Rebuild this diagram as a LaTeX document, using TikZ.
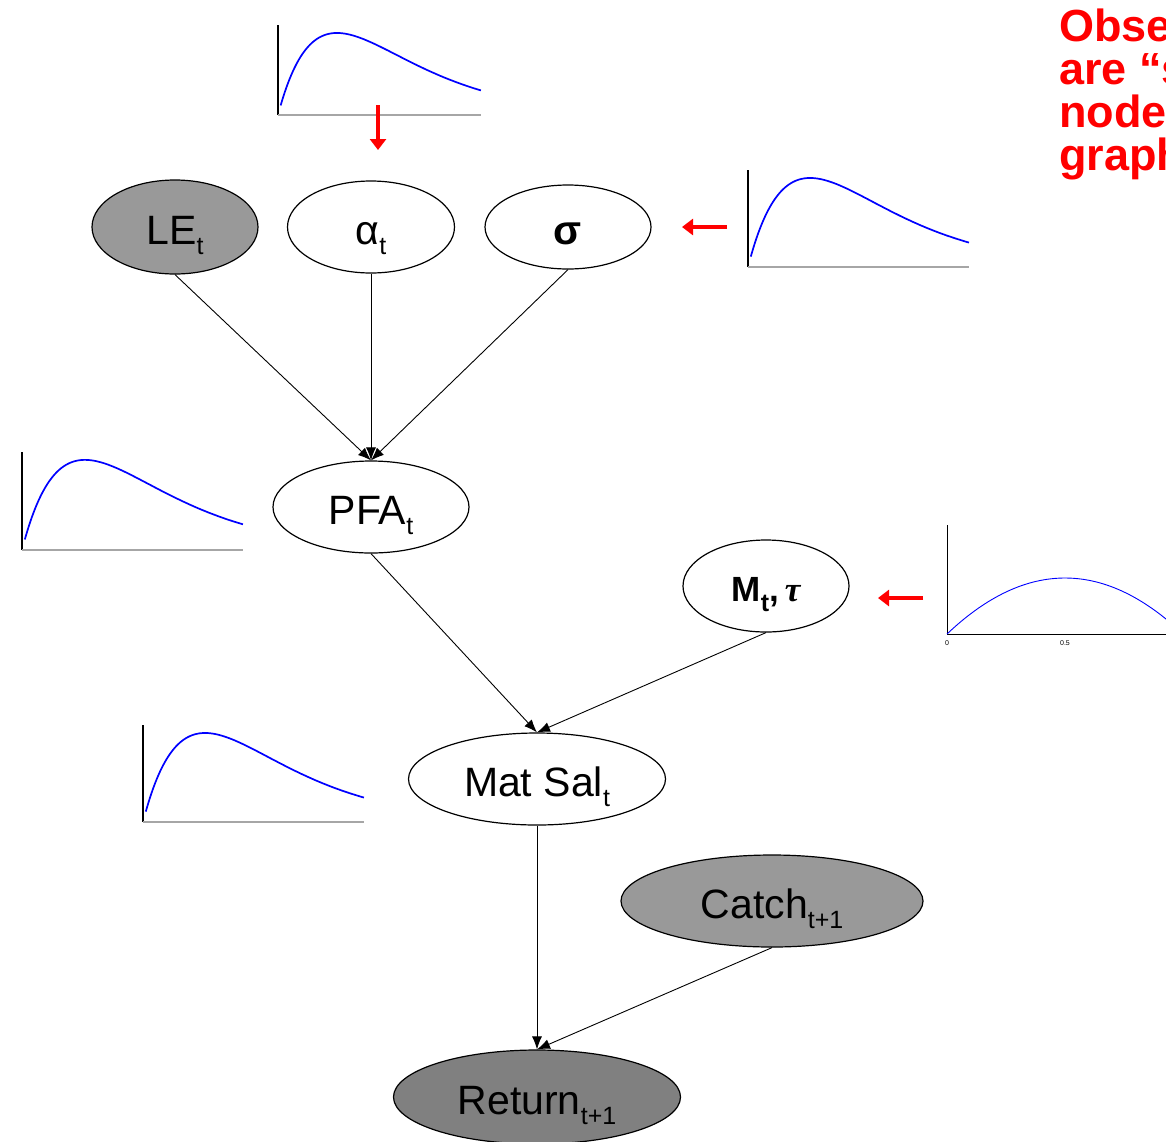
\documentclass[tikz,border=0pt]{standalone}
\usepackage{fontspec}
\setmainfont{Liberation Sans}
\newfontfamily\serifbi{Liberation Serif}
\usetikzlibrary{shapes.geometric,arrows.meta}
\definecolor{obsgray}{RGB}{153,153,153}
\definecolor{obsdark}{RGB}{128,128,128}
\newcommand\lowt[1]{\raisebox{-10pt}{\fontsize{25}{25}\selectfont #1}}
\newcommand\gplot[6]{%
  \draw[black,line width=2.4] (#1,#3) -- (#1,#2);
  \draw[gray!70,line width=1.4] (#1,#2) -- ({#1+#4},#2);
  \draw[blue,line width=1.7,line join=round] plot[domain=0.045:#5,samples=90,smooth] ({#1+\x*#4/#5},{#2-#6*\x*exp(-\x)});
}
\tikzset{
  gnode/.style={ellipse,draw,line width=1.2,inner sep=0pt,text height=34pt,text depth=0pt,font=\fontsize{41}{41}\selectfont},
  edge/.style={line width=0.9,-{Latex[length=13pt,width=10pt]}},
  redarrow/.style={red,line width=4.5,-{Triangle[length=11pt,width=16pt]}},
}
\begin{document}
\begin{tikzpicture}[x=1pt,y=-1pt]
\useasboundingbox (0,0) rectangle (1166,1141);
\clip (0,0) rectangle (1166,1141);
\fill[white] (0,0) rectangle (1166,1141);

% nodes
\node[gnode,fill=obsgray,minimum width=166,minimum height=94] (le) at (175,227) {LE\lowt{t}};
\node[gnode,minimum width=167,minimum height=92] (al) at (371,227) {α\lowt{t}};
\node[gnode,minimum width=166,minimum height=84] (sg) at (568,227) {\textbf{σ}};
\node[gnode,minimum width=196,minimum height=92] (pfa) at (371,507) {PFA\lowt{t}};
\node[gnode,minimum width=166,minimum height=92,text height=30pt,font=\fontsize{35}{35}\selectfont] (mt) at (766,586) {\textbf{M\lowt{t},}\,{\serifbi\bfseries\itshape τ}};
\node[gnode,minimum width=257,minimum height=92] (ms) at (537,779) {Mat Sal\lowt{t}};
\node[gnode,fill=obsgray,minimum width=302,minimum height=92] (ca) at (772,901) {Catch\lowt{t+1}};
\node[gnode,fill=obsdark,minimum width=287,minimum height=94] (re) at (537,1097) {Return\lowt{t+1}};

% edges
\draw[edge] (le.south) -- (pfa.north);
\draw[edge] (al.south) -- (pfa.north);
\draw[edge] (sg.south) -- (pfa.north);
\draw[edge] (pfa.south) -- (ms.north);
\draw[edge] (mt.south) -- (ms.north);
\draw[edge] (ms.south) -- (re.north);
\draw[edge] (ca.south) -- (re.north);

% prior plots
\gplot{278}{115}{25}{203}{3.44}{223}
\gplot{748}{267}{170}{221}{3.56}{242}
\gplot{22}{550}{452}{221}{3.51}{245}
\gplot{143}{822}{725}{221}{3.56}{242}

% beta-like plot
\draw[black,line width=1] (947,525) -- (947,634) -- (1166,634);
\draw[blue,line width=0.9] plot[domain=0:0.93,samples=60,smooth] ({947+\x*236},{634-224*\x*(1-\x)});
\node[font=\fontsize{7}{7}\selectfont,inner sep=0pt] (t0) at (947,643) {0};
\node[font=\fontsize{7}{7}\selectfont,inner sep=0pt] (t5) at (1065,643) {0.5};

% red arrows
\coordinate (r1a) at (378,105); \coordinate (r1b) at (378,150);
\coordinate (r2a) at (727,227); \coordinate (r2b) at (682,227);
\coordinate (r3a) at (923,598); \coordinate (r3b) at (878,598);
\draw[redarrow] (r1a) -- (r1b);
\draw[redarrow] (r2a) -- (r2b);
\draw[redarrow] (r3a) -- (r3b);

% red note
\node[red,font=\fontsize{45}{43}\selectfont\bfseries,align=left,anchor=north west,inner sep=0pt] (note) at (1059,9) {Observed\\are “shaded”\\nodes in the\\graph};
\end{tikzpicture}
\end{document}
